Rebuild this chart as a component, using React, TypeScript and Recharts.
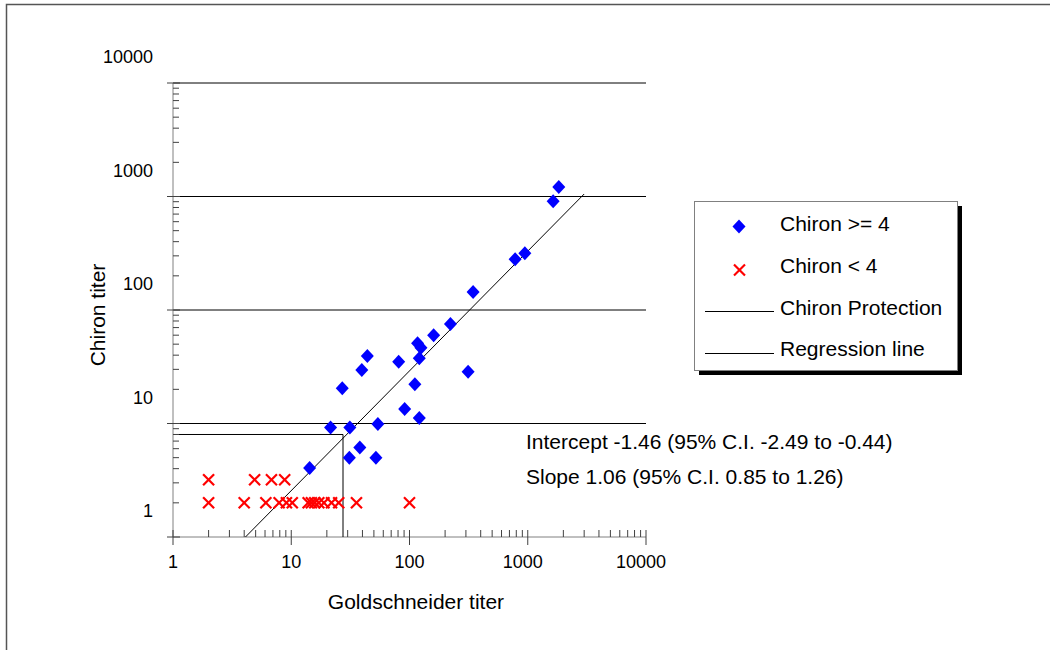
import React from 'react';
import { ScatterChart, Scatter, XAxis, YAxis, ReferenceLine } from 'recharts';

// Chiron >= 4 (blue diamonds)
const goldHigh = [1830, 1640, 945, 782, 345, 222, 160, 117, 125, 121, 44, 39.5, 81, 313, 27, 111, 91, 121, 21.5, 31.3, 54, 38, 31, 52, 14.3];
const chironHigh = [607, 453, 158, 140, 72, 37.7, 30, 25.5, 23.3, 18.8, 19.7, 14.8, 17.5, 14.3, 10.2, 11.1, 6.7, 5.6, 4.6, 4.6, 4.95, 3.07, 2.5, 2.5, 2.03];

// Chiron < 4 (red crosses)
const goldLow = [2, 4.9, 6.8, 8.8, 2, 4, 6.1, 7.9, 9.1, 10.2, 13.9, 14.8, 15.8, 17.1, 18.9, 21.9, 25.2, 35.6, 100];
const chironLow = [1.6, 1.6, 1.6, 1.6, 1, 1, 1, 1, 1, 1, 1, 1, 1, 1, 1, 1, 1, 1, 1];

// protection threshold and regression line
const protectionX = [1, 27.4, 27.4];
const protectionY = [4, 4, 0.5];
const regressionX = [4.1, 3000];
const regressionY = [0.5, 526];

const xMajor = [1, 10, 100, 1000, 10000];
const xTickLabels = ['1', '10', '100', '1000', '10000'];
const yMajor = [0.5, 5, 50, 500, 5000];
const yTickLabels = ['1', '10', '100', '1000', '10000'];
const gridValues = [5, 50, 500, 5000];

const legendLabels = ['Chiron >= 4', 'Chiron < 4', 'Chiron Protection', 'Regression line'];
const notes = ['Intercept -1.46 (95% C.I. -2.49 to -0.44)', 'Slope 1.06 (95% C.I. 0.85 to 1.26)'];

const zip = (xs: number[], ys: number[]) => xs.map((x, i) => ({ x, y: ys[i] }));
const withMinor = (majors: number[]) => [
  ...majors,
  ...majors.slice(0, -1).flatMap((m) => [2, 3, 4, 5, 6, 7, 8, 9].map((k) => m * k)),
];

const highData = zip(goldHigh, chironHigh);
const lowData = zip(goldLow, chironLow);
const protectionData = zip(protectionX, protectionY);
const regressionData = zip(regressionX, regressionY);

const FONT = "'Liberation Sans', Arial, sans-serif";
const TICK = '#404040';

const Diamond = ({ cx, cy }: any) => (
  <polygon points={`${cx},${cy - 7} ${cx + 6.5},${cy} ${cx},${cy + 7} ${cx - 6.5},${cy}`} fill="#0000ff" />
);

const Cross = ({ cx, cy }: any) => (
  <g stroke="#ff0000" strokeWidth={2.2}>
    <line x1={cx - 5.5} y1={cy - 5.5} x2={cx + 5.5} y2={cy + 5.5} />
    <line x1={cx - 5.5} y1={cy + 5.5} x2={cx + 5.5} y2={cy - 5.5} />
  </g>
);

const NoDot = () => <g />;

const XTick = ({ x, y, payload }: any) => {
  const i = xMajor.indexOf(payload.value);
  if (i < 0) return <line x1={x} x2={x} y1={y - 7} y2={y} stroke={TICK} />;
  return (
    <g>
      <line x1={x} x2={x} y1={y - 7} y2={y + 8} stroke={TICK} />
      <text x={x - (i >= 3 ? 5 : 0)} y={y + 25} textAnchor="middle" dominantBaseline="central" fontSize={18} fill="#000">
        {xTickLabels[i]}
      </text>
    </g>
  );
};

const YTick = ({ x, y, payload }: any) => {
  const i = yMajor.indexOf(payload.value);
  if (i < 0) return <line x1={x} x2={x + 6} y1={y} y2={y} stroke={TICK} />;
  return (
    <g>
      <line x1={x - 6} x2={x + 7} y1={y} y2={y} stroke={TICK} />
      <text x={x - 20} y={y - 26} textAnchor="end" dominantBaseline="central" fontSize={18} fill="#000">
        {yTickLabels[i]}
      </text>
    </g>
  );
};

export default function App() {
  return (
    <div style={{ position: 'absolute', left: 0, top: 0, width: 1050, height: 650, overflow: 'hidden', background: '#fff', fontFamily: FONT }}>
      <ScatterChart width={1050} height={650} margin={{ top: 83, right: 404, bottom: 0, left: 0 }}>
        <XAxis
          type="number"
          dataKey="x"
          scale="log"
          domain={[1, 10000]}
          allowDataOverflow
          ticks={withMinor(xMajor)}
          interval={0}
          tickSize={0}
          tickMargin={0}
          tick={<XTick />}
          height={113}
          axisLine={{ stroke: '#808080' }}
        />
        <YAxis
          type="number"
          dataKey="y"
          scale="log"
          domain={[0.5, 5000]}
          allowDataOverflow
          ticks={withMinor(yMajor)}
          interval={0}
          tickSize={0}
          tickMargin={0}
          tick={<YTick />}
          width={173}
          axisLine={{ stroke: '#808080' }}
        />
        {gridValues.map((v) => (
          <ReferenceLine key={v} y={v} stroke="#000" strokeWidth={1} />
        ))}
        <Scatter name={legendLabels[2]} data={protectionData} line={{ stroke: '#000', strokeWidth: 1 }} lineType="joint" shape={NoDot} isAnimationActive={false} />
        <Scatter name={legendLabels[3]} data={regressionData} line={{ stroke: '#000', strokeWidth: 1 }} lineType="joint" shape={NoDot} isAnimationActive={false} />
        <Scatter name={legendLabels[1]} data={lowData} shape={Cross} isAnimationActive={false} />
        <Scatter name={legendLabels[0]} data={highData} shape={Diamond} isAnimationActive={false} />
      </ScatterChart>

      <svg width={1050} height={650} style={{ position: 'absolute', left: 0, top: 0, pointerEvents: 'none' }} fontFamily={FONT}>
        <rect x={6.5} y={4.5} width={1200} height={800} fill="none" stroke="#555" strokeWidth={1.5} />

        <text x={97} y={315} transform="rotate(-90 97 315)" textAnchor="middle" dominantBaseline="central" fontSize={21} fill="#000">
          Chiron titer
        </text>
        <text x={416} y={601} textAnchor="middle" dominantBaseline="central" fontSize={21} fill="#000">
          Goldschneider titer
        </text>

        <text x={526} y={441} dominantBaseline="central" fontSize={21} fill="#000">{notes[0]}</text>
        <text x={526} y={476} dominantBaseline="central" fontSize={21} fill="#000">{notes[1]}</text>

        {/* legend */}
        <rect x={699} y={206} width={263} height={169} fill="#000" />
        <rect x={694.5} y={201.5} width={263} height={169} fill="#fff" stroke="#808080" />
        <Diamond cx={739} cy={226.5} />
        <Cross cx={739.5} cy={270} />
        <line x1={705} x2={774} y1={311.5} y2={311.5} stroke="#000" />
        <line x1={705} x2={774} y1={353.5} y2={353.5} stroke="#000" />
        {legendLabels.map((t, i) => (
          <text key={t} x={780} y={[223, 265, 307, 348.5][i]} dominantBaseline="central" fontSize={21} fill="#000">
            {t}
          </text>
        ))}
      </svg>
    </div>
  );
}
